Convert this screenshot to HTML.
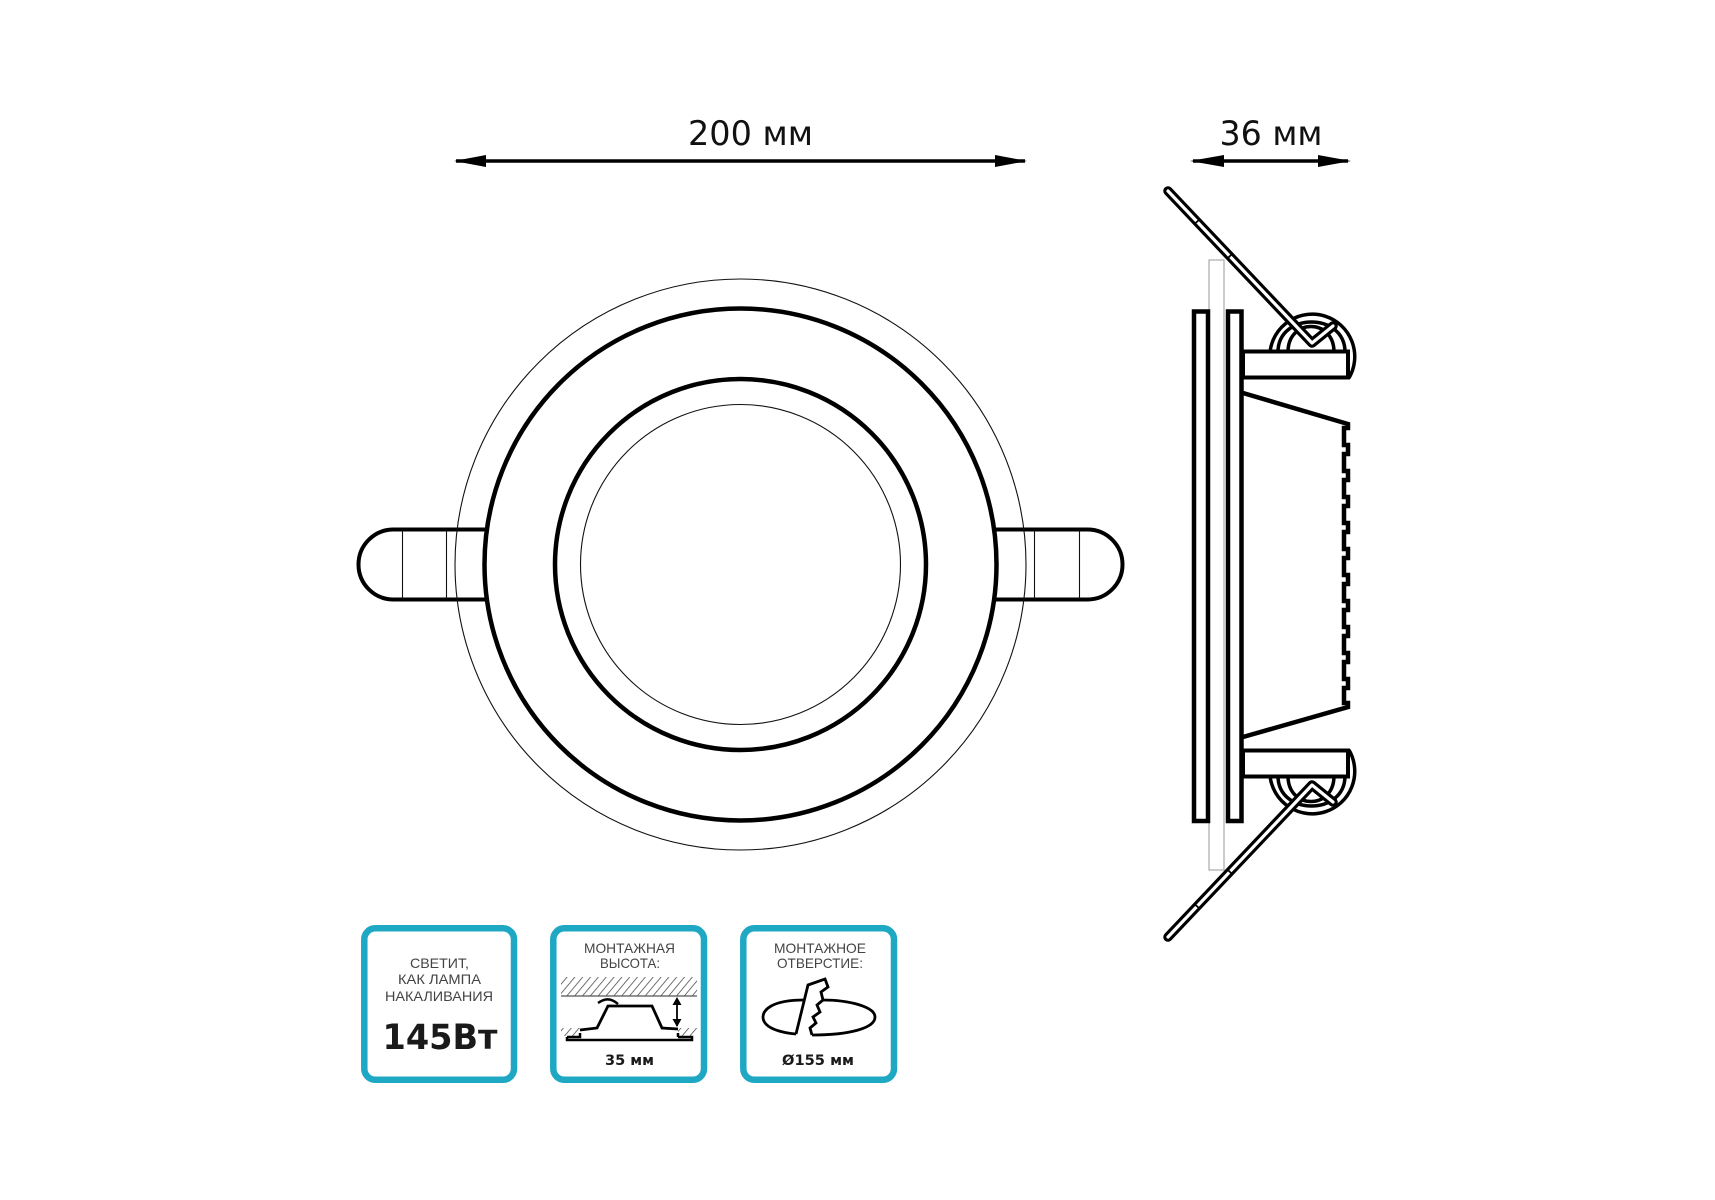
<!DOCTYPE html>
<html><head><meta charset="utf-8"><style>html,body{margin:0;padding:0;background:#fff}svg{display:block}</style></head><body>
<svg xmlns="http://www.w3.org/2000/svg" width="1715" height="1200" viewBox="0 0 1715 1200">
<defs>
<pattern id="h" width="6" height="6" patternUnits="userSpaceOnUse" patternTransform="rotate(40)"><line x1="0" y1="0" x2="0" y2="6" stroke="#444" stroke-width="1.5"/></pattern>
<g id="clip">
<path d="M1270 352A42.500 42.500 0 1 1 1349 378" fill="none" stroke="#000" stroke-width="3.500"/>
<path d="M1278 352C1278 312 1345 312 1345 352" fill="none" stroke="#000" stroke-width="3.500"/>
<path d="M1288 352C1288 318 1334 318 1334 352" fill="none" stroke="#000" stroke-width="3.500"/>
<rect x="1243" y="351.500" width="105" height="26" fill="#fff" stroke="#000" stroke-width="4"/>
<path d="M1168 191L1312 343L1333 326" fill="none" stroke="#000" stroke-width="9.500" stroke-linecap="round" stroke-linejoin="round"/>
<path d="M1168 191L1312 343L1333 326" fill="none" stroke="#fff" stroke-width="3.200" stroke-linecap="round" stroke-linejoin="round"/>
<path d="M1194 224.500L1200 219M1227 259L1233 253" stroke="#000" stroke-width="1.800"/>
</g>
</defs>
<rect width="1715" height="1200" fill="#fff"/>

<!-- dimensions -->
<text x="688" y="145" font-family="'DejaVu Sans',sans-serif" font-size="34" textLength="125" lengthAdjust="spacingAndGlyphs" fill="#111">200 мм</text>
<path d="M456 161H1025" stroke="#000" stroke-width="3.500"/>
<path d="M454 161L486 155V167ZM1027 161L995 155V167Z" fill="#000"/>
<text x="1219.500" y="145" font-family="'DejaVu Sans',sans-serif" font-size="34" textLength="103" lengthAdjust="spacingAndGlyphs" fill="#111">36 мм</text>
<path d="M1193 161H1348" stroke="#000" stroke-width="3.500"/>
<path d="M1190 161L1224 155V167ZM1351 161L1318 155V167Z" fill="#000"/>

<!-- front view tabs -->
<path d="M487 529.500H393.500A35 35 0 0 0 393.500 599.500H487" fill="#fff" stroke="#000" stroke-width="4"/>
<path d="M994 529.500H1087.500A35 35 0 0 1 1087.500 599.500H994" fill="#fff" stroke="#000" stroke-width="4"/>
<path d="M402.500 530V599M446.500 530V599M1034.500 530V599M1079.500 530V599" stroke="#111" stroke-width="1.100"/>
<!-- circles -->
<circle cx="740.500" cy="564.500" r="285.500" fill="none" stroke="#111" stroke-width="1.100"/>
<circle cx="740.500" cy="564.500" r="256" fill="#fff" stroke="#000" stroke-width="4.500"/>
<circle cx="740.500" cy="564.500" r="185.500" fill="none" stroke="#000" stroke-width="4.500"/>
<circle cx="740.500" cy="564.500" r="160" fill="none" stroke="#111" stroke-width="1.100"/>

<!-- side view -->
<rect x="1209" y="260" width="15" height="610" fill="#fff" stroke="#999" stroke-width="1"/>
<path d="M1194 821V311.500H1208V821ZM1228 821V311.500H1241.500V821Z" fill="#fff" stroke="#000" stroke-width="4.500"/>
<path d="M1243 393L1348 424V428H1344V445H1348V454H1344V471H1348V480H1344V497H1348V506H1344V523H1348V532H1344V549H1348V558H1344V575H1348V584H1344V601H1348V610H1344V627H1348V636H1344V653H1348V662H1344V679H1348V688H1344V703H1348V707L1243 737" fill="none" stroke="#000" stroke-width="4.500"/>
<use href="#clip"/>
<use href="#clip" transform="translate(0,1128) scale(1,-1)"/>

<!-- cards -->
<g fill="#fff" stroke="#1fa8c3" stroke-width="6.500">
<rect x="364.300" y="928.300" width="149.700" height="151.500" rx="11"/>
<rect x="553.300" y="928.300" width="150.700" height="151.500" rx="11"/>
<rect x="743.300" y="928.300" width="150.700" height="151.500" rx="11"/>
</g>
<g font-family="'Liberation Sans',sans-serif" font-size="14" fill="#444">
<text x="410" y="968" textLength="59" lengthAdjust="spacingAndGlyphs">СВЕТИТ,</text>
<text x="398" y="984" textLength="83" lengthAdjust="spacingAndGlyphs">КАК ЛАМПА</text>
<text x="385" y="1001" textLength="108" lengthAdjust="spacingAndGlyphs">НАКАЛИВАНИЯ</text>
<text x="584" y="953" textLength="91" lengthAdjust="spacingAndGlyphs">МОНТАЖНАЯ</text>
<text x="600" y="968" textLength="60" lengthAdjust="spacingAndGlyphs">ВЫСОТА:</text>
<text x="774" y="953" textLength="92" lengthAdjust="spacingAndGlyphs">МОНТАЖНОЕ</text>
<text x="777" y="968" textLength="86" lengthAdjust="spacingAndGlyphs">ОТВЕРСТИЕ:</text>
</g>
<g font-family="'DejaVu Sans',sans-serif" font-weight="bold" fill="#1a1a1a">
<text x="382.500" y="1049" font-size="35" textLength="115" lengthAdjust="spacingAndGlyphs">145Вт</text>
<text x="605" y="1065" font-size="14" textLength="49" lengthAdjust="spacingAndGlyphs">35 мм</text>
<text x="782" y="1065" font-size="14" textLength="72" lengthAdjust="spacingAndGlyphs">Ø155 мм</text>
</g>

<!-- card 2 diagram -->
<rect x="561" y="977" width="136" height="19" fill="url(#h)"/>
<path d="M561 996H697" stroke="#555" stroke-width="1.200"/>
<rect x="561" y="1028" width="19" height="8" fill="url(#h)"/>
<rect x="678" y="1028" width="19" height="8" fill="url(#h)"/>
<path d="M580 1030L597 1028L608 1006H652L662 1028L678 1029" fill="none" stroke="#000" stroke-width="2.800"/>
<path d="M567 1037V1040H692V1037H678M567 1037H580V1033M678 1037V1033" fill="none" stroke="#000" stroke-width="2.500"/>
<path d="M598 1003C604 999 610 997 618 1004" fill="none" stroke="#000" stroke-width="2.400"/>
<path d="M677 999V1026" stroke="#000" stroke-width="1.800"/>
<path d="M677 997L672.500 1005H681.500ZM677 1027L672.500 1019H681.500Z" fill="#000"/>

<!-- card 3 diagram -->
<path d="M804 1000C770 1000 763 1011 763 1017C763 1026 775 1032 796 1034" fill="none" stroke="#000" stroke-width="2.800"/>
<path d="M822 1000C850 1000 875 1007 875 1017C875 1028 850 1035 812 1035" fill="none" stroke="#000" stroke-width="2.800"/>
<path d="M796 1034L808 985L825 979L828 987L821 992L823 1000L817 1005L820 1012L813 1017L816 1023L810 1028L812 1035" fill="none" stroke="#000" stroke-width="2.800"/>
</svg>
</body></html>
